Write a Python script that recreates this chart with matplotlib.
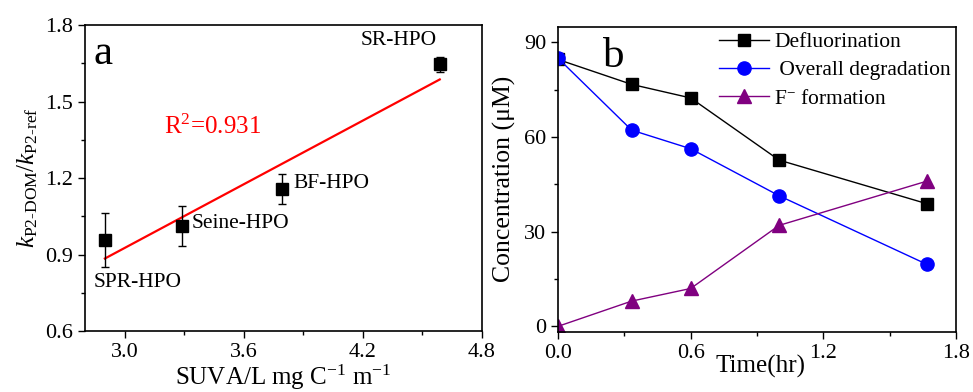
import numpy as np
import matplotlib
matplotlib.use("Agg")
import matplotlib.pyplot as plt
from matplotlib.ticker import MultipleLocator, AutoMinorLocator, FormatStrFormatter

plt.rcParams["font.family"] = ["Liberation Serif", "DejaVu Serif"]
plt.rcParams["mathtext.fontset"] = "custom"
plt.rcParams["mathtext.rm"] = "Liberation Serif"
plt.rcParams["mathtext.it"] = "Liberation Serif:italic"
plt.rcParams["mathtext.bf"] = "Liberation Serif:bold"

# panel a: SUVA vs relative rate constant
samples = ["SPR-HPO", "Seine-HPO", "BF-HPO", "SR-HPO"]
suva = [2.90, 3.29, 3.79, 4.587]
k_ratio = [0.957, 1.012, 1.157, 1.646]
k_err = [0.107, 0.080, 0.057, 0.030]
r2_text = "R$^2$=0.931"

# panel b: concentration vs time
time_hr = [0.0, 0.333, 0.6, 1.0, 1.667]
defluor = [84.6, 76.7, 72.4, 52.7, 38.9]
overall = [85.0, 62.2, 56.3, 41.4, 19.7]
f_form = [0.0, 8.0, 12.0, 32.0, 46.0]

fig = plt.figure(figsize=(9.73, 3.92), dpi=100)
ax1 = fig.add_axes([0.0874, 0.1556, 0.408, 0.7806])
ax2 = fig.add_axes([0.5735, 0.153, 0.409, 0.779])

tick_fs = 16
label_fs = 18


def style_axis(ax):
    for sp in ax.spines.values():
        sp.set_linewidth(1.2)
    ax.tick_params(which="major", direction="out", length=5, width=1,
                   labelsize=tick_fs, top=False, right=False)
    ax.tick_params(which="minor", direction="out", length=3, width=1,
                   top=False, right=False)
    ax.xaxis.set_minor_locator(AutoMinorLocator(2))
    ax.yaxis.set_minor_locator(AutoMinorLocator(2))


# ---- panel a
ax1.errorbar(suva, k_ratio, yerr=k_err, fmt="s", color="black",
             markersize=8, capsize=3, elinewidth=1, capthick=1, zorder=3)
slope, icpt = np.polyfit(suva, k_ratio, 1)
xfit = np.array([min(suva), max(suva)])
ax1.plot(xfit, slope * xfit + icpt, color="red", lw=1.6, zorder=2)

ax1.set_xlim(2.8, 4.8)
ax1.set_ylim(0.6, 1.8)
ax1.xaxis.set_major_locator(MultipleLocator(0.6))
ax1.yaxis.set_major_locator(MultipleLocator(0.3))
ax1.xaxis.set_major_formatter(FormatStrFormatter("%.1f"))
ax1.yaxis.set_major_formatter(FormatStrFormatter("%.1f"))
style_axis(ax1)
ax1.set_xlim(2.8, 4.8)

ax1.set_xlabel("SUVA/L mg C$^{-1}$ m$^{-1}$", fontsize=label_fs, labelpad=1)
ax1.set_ylabel(r"$k_{\mathrm{P2\text{-}DOM}}/k_{\mathrm{P2\text{-}ref}}$",
               fontsize=label_fs, labelpad=4)

# sample labels (offset from each point)
label_offsets = {
    "SPR-HPO": (-0.055, -0.165),
    "Seine-HPO": (0.045, 0.008),
    "BF-HPO": (0.06, 0.023),
    "SR-HPO": (-0.397, 0.095),
}
for name, xv, yv in zip(samples, suva, k_ratio):
    dx, dy = label_offsets[name]
    ax1.text(xv + dx, yv + dy, name, fontsize=15.5, ha="left", va="center")

ax1.text(3.2, 1.40, r2_text, color="red", fontsize=18, va="center")
ax1.text(0.022, 0.905, "a", transform=ax1.transAxes, fontsize=31, va="center")

# ---- panel b
ax2.plot(time_hr, defluor, color="black", lw=1, marker="s", markersize=8.5,
         label="Defluorination")
ax2.plot(time_hr, overall, color="#0000ff", lw=1, marker="o", markersize=9.5,
         label=" Overall degradation")
ax2.plot(time_hr, f_form, color="#800080", lw=1, marker="^", markersize=10,
         label="F$^{-}$ formation")

ax2.set_xlim(0, 1.8)
ax2.set_ylim(-1.8, 95)
ax2.xaxis.set_major_locator(MultipleLocator(0.6))
ax2.yaxis.set_major_locator(MultipleLocator(30))
ax2.xaxis.set_major_formatter(FormatStrFormatter("%.1f"))
style_axis(ax2)

ax2.set_ylabel("Concentration (\u03bcM)", fontsize=18.5, labelpad=6)
ax2.set_xlabel("Time(hr)", fontsize=label_fs)
ax2.xaxis.set_label_coords(0.51, -0.075)
ax2.text(0.113, 0.90, "b", transform=ax2.transAxes, fontsize=31, va="center")

ax2.legend(loc="upper right", bbox_to_anchor=(1.0, 1.0), frameon=False,
           fontsize=15.5, handlelength=2.3, handletextpad=0.25,
           labelspacing=0.38, borderaxespad=0.05, borderpad=0.2)

fig.savefig("out.png", dpi=100)
